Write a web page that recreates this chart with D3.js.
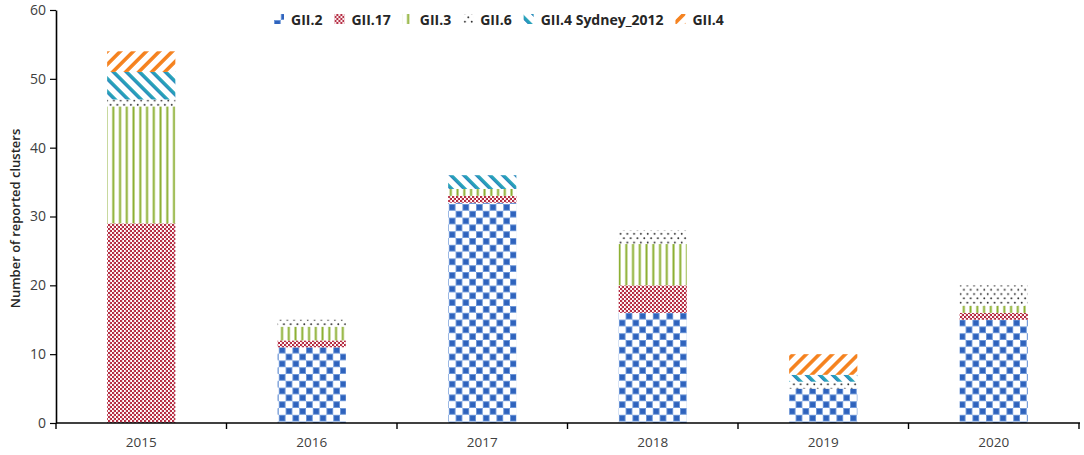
<!DOCTYPE html>
<html>
<head>
<meta charset="utf-8">
<script src="https://cdn.jsdelivr.net/npm/d3@7"></script>
<style>
  html, body { margin: 0; padding: 0; background: #fff; }
  svg { display: block; }
</style>
</head>
<body>
<svg id="chart" width="1084" height="455"></svg>
<script>
// ---- data ----
const categories = ["2015", "2016", "2017", "2018", "2019", "2020"];
const seriesNames = ["GII.2", "GII.17", "GII.3", "GII.6", "GII.4 Sydney_2012", "GII.4"];
const gii2   = [0, 11, 32, 16, 5, 15];
const gii17  = [29, 1, 1, 4, 0, 1];
const gii3   = [17, 2, 1, 6, 0, 1];
const gii6   = [1, 1, 0, 2, 1, 3];
const sydney = [4, 0, 2, 0, 1, 0];
const gii4   = [3, 0, 0, 0, 3, 0];
const yTicks = [0, 10, 20, 30, 40, 50, 60];
const yLabel = "Number of reported clusters";

(function () {
const seriesValues = [gii2, gii17, gii3, gii6, sydney, gii4];
const rows = categories.map((c, i) => {
  const r = { year: c };
  seriesNames.forEach((s, k) => r[s] = seriesValues[k][i]);
  return r;
});

// ---- layout ----
const svg = d3.select("#chart");
const mLeft = 56, mRight = 1079, mTop = 10, mBottom = 423;

const x = d3.scaleBand().domain(categories).range([mLeft, mRight])
  .paddingInner(0.6).paddingOuter(0.3);
const y = d3.scaleLinear().domain([0, 60]).range([mBottom, mTop]);

// ---- patterns ----
const defs = svg.append("defs");
function pat(id, w, h, transform) {
  const p = defs.append("pattern").attr("id", id)
    .attr("patternUnits", "userSpaceOnUse")
    .attr("width", w).attr("height", h);
  if (transform) p.attr("patternTransform", transform);
  p.append("rect").attr("width", w).attr("height", h).attr("fill", "#fff");
  return p;
}
// GII.2 blue checker
{
  const s = 6.8;
  const p = pat("p0", s * 2, s * 2);
  p.append("rect").attr("x", 0.4).attr("y", 0.4).attr("width", s - 0.8).attr("height", s - 0.8)
    .attr("fill", "#2f63bd").attr("stroke", "#6b96d8").attr("stroke-width", 0.8);
  p.append("rect").attr("x", s + 0.4).attr("y", s + 0.4).attr("width", s - 0.8).attr("height", s - 0.8)
    .attr("fill", "#2f63bd").attr("stroke", "#6b96d8").attr("stroke-width", 0.8);
}
// GII.17 dark red fine checker
{
  const p = pat("p1", 4, 4);
  p.append("rect").attr("x", 0).attr("y", 0).attr("width", 2).attr("height", 2).attr("fill", "#b32a40");
  p.append("rect").attr("x", 2).attr("y", 2).attr("width", 2).attr("height", 2).attr("fill", "#b32a40");
  p.append("rect").attr("x", 1.5).attr("y", 0).attr("width", 1).attr("height", 4).attr("fill", "#c9566a").attr("opacity", 0.5);
}
// GII.3 green vertical lines
{
  const p = pat("p2", 6.75, 10);
  p.append("rect").attr("x", 4.3).attr("y", 0).attr("width", 2).attr("height", 10).attr("fill", "#8aae2e");
}
// GII.6 black dots
{
  const p = pat("p3", 6.8, 8.6);
  p.append("circle").attr("cx", 1.7).attr("cy", 1.6).attr("r", 0.95).attr("fill", "#2b2b2b");
  p.append("circle").attr("cx", 5.1).attr("cy", 5.9).attr("r", 0.95).attr("fill", "#2b2b2b");
}
// GII.4 Sydney_2012 teal "\" stripes
{
  const p = pat("p4", 9.2, 9.2, "rotate(-45)");
  p.append("rect").attr("x", 0).attr("y", 0).attr("width", 3.6).attr("height", 9.2).attr("fill", "#25a0b9");
  p.append("rect").attr("x", 0).attr("y", 0).attr("width", 0.9).attr("height", 9.2).attr("fill", "#3a78c4").attr("opacity", 0.7);
}
// GII.4 orange "/" stripes
{
  const p = pat("p5", 9.2, 9.2, "rotate(45)");
  p.append("rect").attr("x", 0).attr("y", 0).attr("width", 3.6).attr("height", 9.2).attr("fill", "#f5821f");
}
const fills = seriesNames.map((s, i) => `url(#p${i})`);
const color = d3.scaleOrdinal().domain(seriesNames).range(fills);

// ---- bars ----
const stack = d3.stack().keys(seriesNames);
const layers = stack(rows);
svg.append("g").selectAll("g").data(layers).join("g")
  .attr("fill", d => color(d.key))
  .selectAll("rect").data(d => d).join("rect")
  .attr("x", d => x(d.data.year))
  .attr("width", x.bandwidth())
  .attr("y", d => y(d[1]))
  .attr("height", d => Math.max(0, y(d[0]) - y(d[1])));

// ---- axes ----
const font = "'Open Sans', 'Liberation Sans', sans-serif";
const yAxis = svg.append("g").attr("transform", `translate(${mLeft},0)`)
  .call(d3.axisLeft(y).tickValues(yTicks).tickSize(6).tickSizeOuter(0).tickPadding(4));
yAxis.select(".domain").attr("stroke", "#000").attr("stroke-width", 1.6);
yAxis.selectAll(".tick line").attr("stroke", "#000").attr("stroke-width", 1.2);
yAxis.selectAll(".tick text").attr("font-family", font).attr("font-size", 14).attr("fill", "#404040");

// x-axis: labels at band centres, ticks at band boundaries
const xAxis = svg.append("g").attr("transform", `translate(0,${mBottom})`)
  .call(d3.axisBottom(x).tickSize(0).tickSizeOuter(0).tickPadding(14));
xAxis.select(".domain").remove();
xAxis.selectAll(".tick text").attr("font-family", font).attr("font-size", 13.5).attr("fill", "#404040");
const step = (mRight - mLeft) / categories.length;
const boundaries = d3.range(categories.length + 1).map(i => mLeft + i * step);
svg.append("line").attr("x1", mLeft).attr("x2", mRight + 1).attr("y1", mBottom).attr("y2", mBottom)
  .attr("stroke", "#000").attr("stroke-width", 1.6);
svg.append("g").selectAll("line").data(boundaries).join("line")
  .attr("x1", d => d).attr("x2", d => d)
  .attr("y1", mBottom).attr("y2", mBottom + 6)
  .attr("stroke", "#000").attr("stroke-width", 1.4);

// y label
svg.append("text")
  .attr("transform", `translate(20,${(mTop + mBottom) / 2 + 2}) rotate(-90)`)
  .attr("text-anchor", "middle")
  .attr("font-family", font).attr("font-size", 13).attr("font-weight", 600)
  .attr("fill", "#262626")
  .text(yLabel);

// ---- legend ----
const legend = svg.append("g").attr("transform", "translate(274,20)");
let lx = 0;
seriesNames.forEach((s, i) => {
  const g = legend.append("g").attr("transform", `translate(${lx},0)`);
  g.append("rect").attr("x", 0).attr("y", -6).attr("width", 10).attr("height", 10)
    .attr("fill", color(s));
  const t = g.append("text").attr("x", 17).attr("y", 0).attr("dy", "0.35em")
    .attr("font-family", font).attr("font-size", 14).attr("font-weight", 700)
    .attr("fill", "#262626").text(s);
  lx += 17 + t.node().getComputedTextLength() + 12;
});
})();
</script>
</body>
</html>
